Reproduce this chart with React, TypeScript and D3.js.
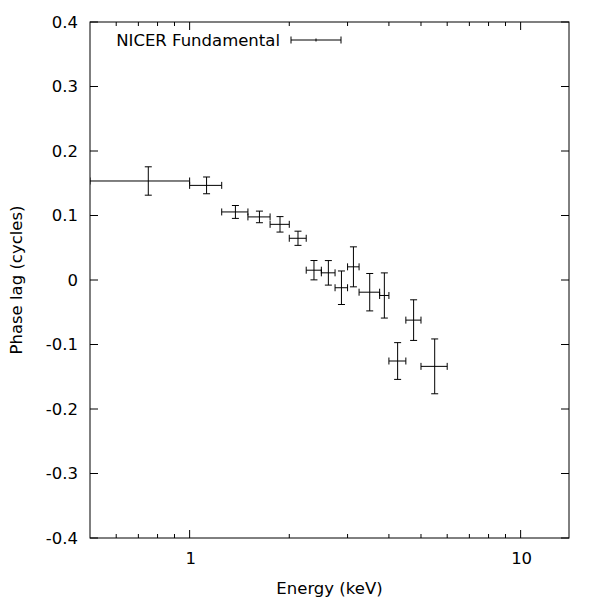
import React, { useEffect, useRef } from "react";
import * as d3 from "d3";

// energy bins (keV) and phase lag (cycles)
const energyLo = [0.5, 1.0, 1.25, 1.5, 1.75, 2.0, 2.25, 2.5, 2.75, 3.0, 3.25, 3.75, 4.0, 4.5, 5.0];
const energyHi = [1.0, 1.25, 1.5, 1.75, 2.0, 2.25, 2.5, 2.75, 3.0, 3.25, 3.75, 4.0, 4.5, 5.0, 6.0];
const phaseLag = [0.1535, 0.1467, 0.1055, 0.0978, 0.0863, 0.0647, 0.0152, 0.0111, -0.012, 0.0204, -0.0189, -0.024, -0.1256, -0.0622, -0.1339];
const lagErr = [0.022, 0.013, 0.01, 0.009, 0.012, 0.011, 0.015, 0.019, 0.026, 0.031, 0.029, 0.035, 0.0285, 0.0315, 0.0425];

const yTicks = [-0.4, -0.3, -0.2, -0.1, 0, 0.1, 0.2, 0.3, 0.4];
const xMajor = [1, 10];
const xMinor = [0.6, 0.7, 0.8, 0.9, 2, 3, 4, 5, 6, 7, 8, 9];

const App = () => {
  const svgRef = useRef<SVGSVGElement>(null);

  useEffect(() => {
    const width = 600;
    const height = 600;
    const margin = { left: 90, right: 31, top: 22, bottom: 62 };
    const font = "DejaVu Sans";
    const fs = "16.5px";

    const svg = d3.select(svgRef.current);
    svg.selectAll("*").remove();

    const x = d3.scaleLog().domain([0.5, 14]).range([margin.left, width - margin.right]);
    const y = d3.scaleLinear().domain([-0.4, 0.4]).range([height - margin.bottom, margin.top]);
    const [x0, x1] = x.range();
    const [yb, yt] = y.range();

    svg
      .append("defs")
      .append("clipPath")
      .attr("id", "plotclip")
      .append("rect")
      .attr("x", x0)
      .attr("y", yt)
      .attr("width", x1 - x0)
      .attr("height", yb - yt);

    const axes = svg.append("g").attr("stroke", "#000").attr("stroke-width", 1);

    // ticks mirrored on all four sides
    yTicks.forEach((t) => {
      axes.append("line").attr("x1", x0).attr("x2", x0 + 8).attr("y1", y(t)).attr("y2", y(t));
      axes.append("line").attr("x1", x1).attr("x2", x1 - 8).attr("y1", y(t)).attr("y2", y(t));
    });
    xMajor.forEach((t) => {
      axes.append("line").attr("x1", x(t)).attr("x2", x(t)).attr("y1", yb).attr("y2", yb - 8);
      axes.append("line").attr("x1", x(t)).attr("x2", x(t)).attr("y1", yt).attr("y2", yt + 8);
    });
    xMinor.forEach((t) => {
      axes.append("line").attr("x1", x(t)).attr("x2", x(t)).attr("y1", yb).attr("y2", yb - 4);
      axes.append("line").attr("x1", x(t)).attr("x2", x(t)).attr("y1", yt).attr("y2", yt + 4);
    });

    axes
      .append("rect")
      .attr("x", x0)
      .attr("y", yt)
      .attr("width", x1 - x0)
      .attr("height", yb - yt)
      .attr("fill", "none");

    // tick labels
    svg
      .append("g")
      .selectAll("text")
      .data(yTicks)
      .enter()
      .append("text")
      .attr("x", x0 - 12)
      .attr("y", (d) => y(d))
      .attr("dy", "0.35em")
      .attr("text-anchor", "end")
      .style("font-family", font)
      .style("font-size", fs)
      .text((d) => (d === 0 ? "0" : d.toFixed(1)));

    svg
      .append("g")
      .selectAll("text")
      .data(xMajor)
      .enter()
      .append("text")
      .attr("x", (d) => x(d) + 1)
      .attr("y", yb + 26)
      .attr("text-anchor", "middle")
      .style("font-family", font)
      .style("font-size", fs)
      .text((d) => String(d));

    // axis titles
    svg
      .append("text")
      .attr("x", (x0 + x1) / 2)
      .attr("y", 594)
      .attr("text-anchor", "middle")
      .style("font-family", font)
      .style("font-size", fs)
      .text("Energy (keV)");

    svg
      .append("text")
      .attr("transform", `translate(22, ${(yt + yb) / 2}) rotate(-90)`)
      .attr("text-anchor", "middle")
      .style("font-family", font)
      .style("font-size", fs)
      .text("Phase lag (cycles)");

    // error bars
    const cap = 3.5;
    const pts = phaseLag.map((v, i) => ({
      lo: energyLo[i],
      hi: energyHi[i],
      mid: (energyLo[i] + energyHi[i]) / 2,
      v,
      e: lagErr[i],
    }));

    const bars = svg
      .append("g")
      .attr("clip-path", "url(#plotclip)")
      .attr("stroke", "#000")
      .attr("stroke-width", 1)
      .attr("fill", "none");

    const path = pts
      .map((p) => {
        const cx = x(p.mid);
        const cy = y(p.v);
        const xl = x(p.lo);
        const xh = x(p.hi);
        const yl = y(p.v - p.e);
        const yh = y(p.v + p.e);
        return [
          `M${xl},${cy}H${xh}`,
          `M${xl},${cy - cap}V${cy + cap}`,
          `M${xh},${cy - cap}V${cy + cap}`,
          `M${cx},${yl}V${yh}`,
          `M${cx - cap},${yl}H${cx + cap}`,
          `M${cx - cap},${yh}H${cx + cap}`,
        ].join("");
      })
      .join("");
    bars.append("path").attr("d", path);

    // legend
    const ly = 40;
    svg
      .append("text")
      .attr("x", 280)
      .attr("y", ly)
      .attr("dy", "0.35em")
      .attr("text-anchor", "end")
      .style("font-family", font)
      .style("font-size", fs)
      .text("NICER Fundamental");
    svg
      .append("path")
      .attr("stroke", "#000")
      .attr("fill", "none")
      .attr(
        "d",
        `M291,${ly}H341M291,${ly - cap}V${ly + cap}M341,${ly - cap}V${ly + cap}M316,${ly - 1.5}V${ly + 1.5}`
      );
  }, []);

  return (
    <svg
      ref={svgRef}
      width={600}
      height={600}
      style={{ position: "absolute", left: 0, top: 0, background: "#fff" }}
    ></svg>
  );
};

export default App;
